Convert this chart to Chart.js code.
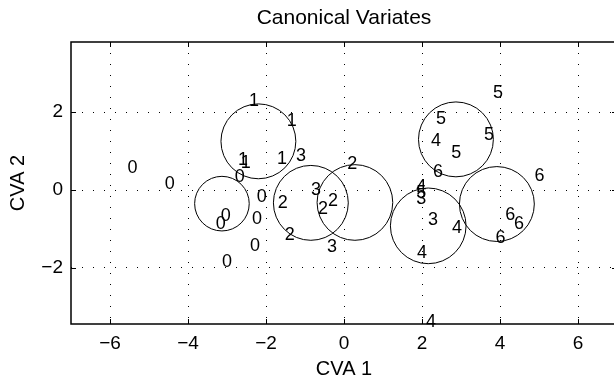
<!DOCTYPE html>
<html>
<head>
<meta charset="utf-8">
<script src="https://cdn.jsdelivr.net/npm/chart.js@4/dist/chart.umd.min.js"></script>
<style>
  html, body { margin: 0; padding: 0; background: #fff; overflow: hidden; width: 614px; height: 381px; }
  #wrap { width: 620px; height: 381px; }
</style>
</head>
<body>
<div id="wrap"><canvas id="cva" width="620" height="381"></canvas></div>
<script>
// class labels and their projected points (CVA 1, CVA 2)
const classLabels = ['0', '1', '2', '3', '4', '5', '6'];
const cva1 = [
    [-5.42, -4.47, -2.67, -2.11, -3.03, -3.16, -2.23, -2.28, -3.00],
    [-2.31, -1.34, -1.59, -2.59, -2.52],
    [-1.57, -1.39, -0.54, -0.28, 0.21],
    [-1.10, -0.72, -0.31, 1.98, 2.28],
    [2.36, 1.98, 2.90, 2.00, 2.23],
    [3.95, 2.49, 3.72, 2.88, 1.98],
    [2.41, 5.01, 4.26, 4.49, 4.01]
];
const cva2 = [
    [0.56, 0.15, 0.33, -0.18, -0.67, -0.87, -0.74, -1.44, -1.85],
    [2.28, 1.77, 0.79, 0.77, 0.69],
    [-0.33, -1.15, -0.49, -0.28, 0.67],
    [0.87, 0.00, -1.46, -0.23, -0.77],
    [1.26, 0.08, -0.97, -1.62, -3.38],
    [2.49, 1.82, 1.41, 0.95, -0.08],
    [0.46, 0.36, -0.64, -0.87, -1.23]
];

// class mean circles
const circX = [-3.13, -2.195, -0.85, 0.28, 2.16, 2.87, 3.92];
const circY = [-0.35, 1.25, -0.33, -0.32, -0.92, 1.30, -0.36];
const circR = [0.70, 0.96, 0.96, 0.97, 0.97, 0.96, 0.96];

const xTicks = [-6, -4, -2, 0, 2, 4, 6];
const yTicks = [-2, 0, 2];

const FONT = "'Liberation Sans', Arial, Helvetica, sans-serif";
const fmt = v => v < 0 ? '\u2212' + Math.abs(v) : String(v);

const pointSets = classLabels.map((lab, k) => ({
    label: lab,
    data: cva1[k].map((x, i) => ({ x: x, y: cva2[k][i] })),
    pointRadius: 0
}));

// circles, digits, box and inward tick marks
const frame = {
    id: 'frame',
    afterDatasetsDraw(chart) {
        const { ctx, chartArea: a, scales: { x, y } } = chart;
        ctx.save();
        ctx.beginPath();
        ctx.rect(a.left, a.top, a.right - a.left, a.bottom - a.top);
        ctx.clip();
        ctx.strokeStyle = '#000';
        ctx.lineWidth = 1;
        circX.forEach((cx, i) => {
            const px = x.getPixelForValue(cx), py = y.getPixelForValue(circY[i]);
            const rp = Math.abs(x.getPixelForValue(circR[i]) - x.getPixelForValue(0));
            ctx.beginPath();
            ctx.arc(px, py, rp, 0, Math.PI * 2);
            ctx.stroke();
        });
        ctx.restore();

        ctx.save();
        ctx.fillStyle = '#000';
        ctx.font = '18px ' + FONT;
        ctx.textAlign = 'center';
        ctx.textBaseline = 'middle';
        pointSets.forEach((ds, k) => {
            chart.getDatasetMeta(k).data.forEach(p => ctx.fillText(ds.label, p.x, p.y));
        });

        ctx.strokeStyle = '#000';
        ctx.lineWidth = 1.5;
        ctx.strokeRect(a.left, a.top, a.right - a.left, a.bottom - a.top);

        ctx.lineWidth = 1;
        const seg = (x1, y1, x2, y2) => { ctx.beginPath(); ctx.moveTo(x1, y1); ctx.lineTo(x2, y2); ctx.stroke(); };
        xTicks.forEach(v => {
            const px = Math.round(x.getPixelForValue(v)) + 0.5;
            seg(px, a.bottom, px, a.bottom - 5);
            seg(px, a.top, px, a.top + 5);
        });
        yTicks.forEach(v => {
            const py = Math.round(y.getPixelForValue(v)) + 0.5;
            seg(a.left, py, a.left + 5, py);
            seg(a.right, py, a.right - 5, py);
        });
        ctx.restore();
    }
};

new Chart(document.getElementById('cva'), {
    type: 'scatter',
    data: { datasets: pointSets },
    options: {
        responsive: false,
        animation: false,
        events: [],
        layout: { padding: { left: 0, right: 3, top: 0, bottom: 0 } },
        plugins: { legend: { display: false }, tooltip: { enabled: false } },
        scales: {
            x: {
                type: 'linear', position: 'bottom', min: -7, max: 7,
                afterBuildTicks: s => { s.ticks = xTicks.map(v => ({ value: v })); },
                afterFit: s => { s.height = 57; },
                ticks: { padding: 8, color: '#000', font: { family: FONT, size: 19 }, callback: fmt, maxRotation: 0, autoSkip: false },
                grid: { color: '#000', lineWidth: 1, drawTicks: false },
                border: { display: false, dash: [1, 10] },
                title: { display: true, text: 'CVA 1', color: '#000', font: { family: FONT, size: 20 }, padding: { top: 0, bottom: 0 } }
            },
            y: {
                type: 'linear', position: 'left', min: -3.44, max: 3.8,
                afterBuildTicks: s => { s.ticks = yTicks.map(v => ({ value: v })); },
                afterFit: s => { s.width = 71; },
                ticks: { padding: 8, color: '#000', font: { family: FONT, size: 19 }, callback: fmt, autoSkip: false },
                grid: { color: '#000', lineWidth: 1, drawTicks: false },
                border: { display: false, dash: [1, 10] },
                title: { display: true, text: 'CVA 2', color: '#000', font: { family: FONT, size: 20 }, padding: { top: 6, bottom: 0 } }
            },
            top: {
                type: 'linear', position: 'top', min: -7, max: 7,
                afterFit: s => { s.height = 42; },
                ticks: { display: false },
                grid: { display: false, drawTicks: false },
                border: { display: false },
                title: { display: true, text: 'Canonical Variates', color: '#000', font: { family: FONT, size: 21 }, padding: { top: 6, bottom: 0 } }
            }
        }
    },
    plugins: [frame]
});
</script>
</body>
</html>
